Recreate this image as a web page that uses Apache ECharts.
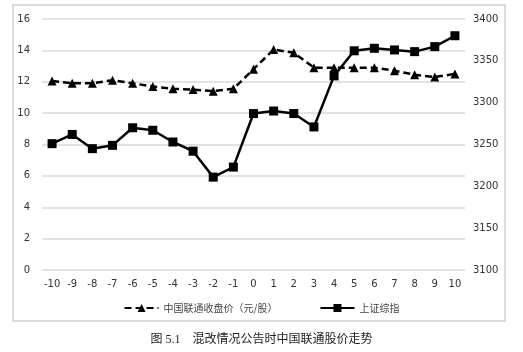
<!DOCTYPE html>
<html>
<head>
<meta charset="utf-8">
<script src="https://cdn.jsdelivr.net/npm/echarts@6/dist/echarts.min.js"></script>
<style>
  html, body { margin: 0; padding: 0; background: #fff; }
  #main { width: 523px; height: 352px; }
</style>
</head>
<body>
<div id="main"></div>
<script>
var days = ['-10','-9','-8','-7','-6','-5','-4','-3','-2','-1','0','1','2','3','4','5','6','7','8','9','10'];
// 中国联通收盘价（元/股）
var unicomPrice = [12.05, 11.9, 11.9, 12.1, 11.9, 11.7, 11.55, 11.5, 11.4, 11.55, 12.8, 14.05, 13.85, 12.9, 12.9, 12.9, 12.9, 12.7, 12.45, 12.3, 12.5];
// 上证综指
var shIndex = [3251, 3262, 3245, 3249, 3270, 3267, 3253, 3242, 3211, 3223, 3287, 3290, 3287, 3271, 3332, 3362, 3365, 3363, 3361, 3367, 3380];

var myChart = echarts.init(document.getElementById('main'));

var labelFont = { color: '#333', fontSize: 10, fontFamily: 'DejaVu Sans' };

var option = {
    animation: false,
    backgroundColor: '#fff',
    graphic: [
        {
            type: 'text',
            left: 'center',
            top: 334,
            style: {
                text: '图 5.1    混改情况公告时中国联通股价走势',
                fill: '#222',
                fontSize: 12,
                fontFamily: 'Liberation Serif, Noto Sans CJK SC'
            }
        }
    ],
    grid: [
        { left: 42, right: 58, top: 19, bottom: 82 },
        // outer frame only
        {
            left: 13, top: 5, width: 492, height: 316,
            show: true, borderColor: '#d0d0d0', borderWidth: 1.5,
            backgroundColor: 'transparent', z: 0
        }
    ],
    legend: {
        top: 298,
        left: 'center',
        itemWidth: 34,
        itemHeight: 10,
        itemGap: 42,
        textStyle: { color: '#444', fontSize: 10, fontFamily: 'Noto Sans CJK SC' },
        data: ['中国联通收盘价（元/股）', '上证综指']
    },
    xAxis: [
        {
            type: 'category',
            data: days,
            boundaryGap: true,
            axisLine: { show: false },
            axisTick: { show: false },
            axisLabel: Object.assign({ margin: 9, interval: 0 }, labelFont)
        },
        { type: 'value', gridIndex: 1, show: false }
    ],
    yAxis: [
        {
            type: 'value',
            min: 0, max: 16, interval: 2,
            axisLine: { show: false },
            axisTick: { show: false },
            axisLabel: Object.assign({ margin: 12 }, labelFont),
            splitLine: { lineStyle: { color: '#d9d9d9', width: 1.5 } }
        },
        {
            type: 'value',
            min: 3100, max: 3400, interval: 50,
            axisLine: { show: false },
            axisTick: { show: false },
            axisLabel: Object.assign({ margin: 8, formatter: function (v) { return String(v); } }, labelFont),
            splitLine: { show: false }
        },
        { type: 'value', gridIndex: 1, show: false }
    ],
    series: [
        {
            name: '中国联通收盘价（元/股）',
            type: 'line',
            yAxisIndex: 0,
            data: unicomPrice,
            symbol: 'triangle',
            symbolSize: 9,
            itemStyle: { color: '#000' },
            lineStyle: { color: '#000', width: 2.5, type: [7, 4] }
        },
        {
            name: '上证综指',
            type: 'line',
            yAxisIndex: 1,
            data: shIndex,
            symbol: 'rect',
            symbolSize: 9,
            itemStyle: { color: '#000' },
            lineStyle: { color: '#000', width: 2.5 }
        }
    ]
};

myChart.setOption(option);
</script>
</body>
</html>
